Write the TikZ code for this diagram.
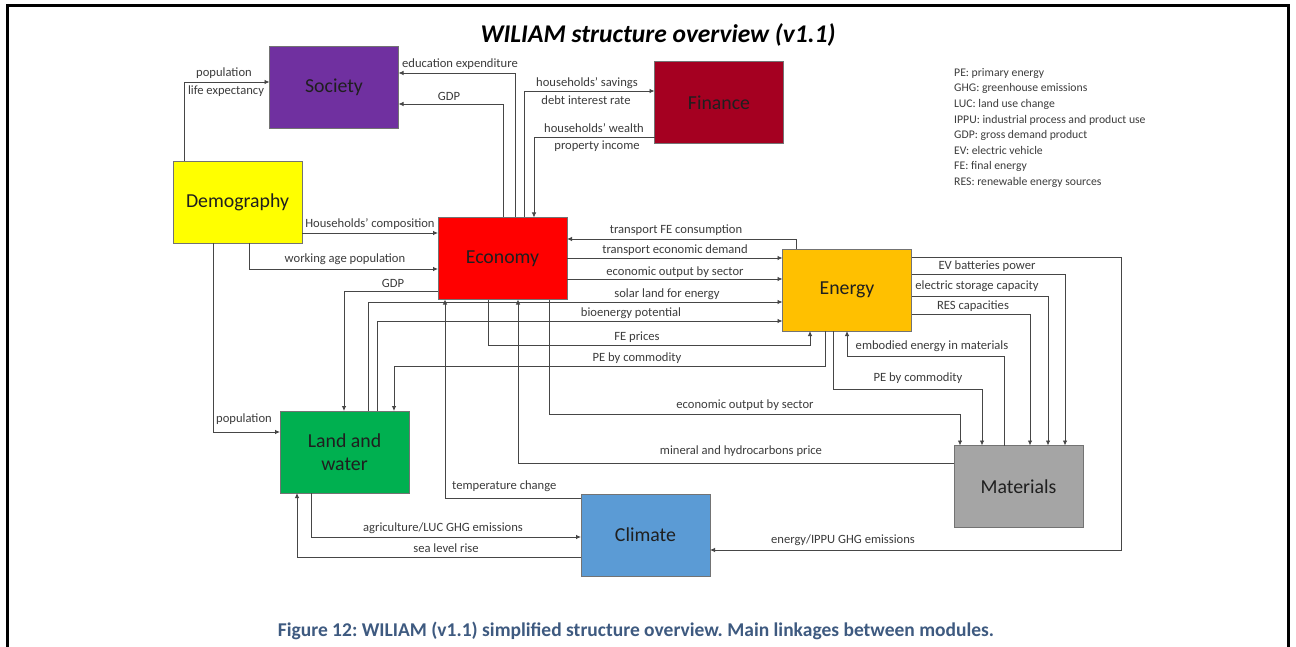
\documentclass[tikz,border=0pt]{standalone}
\usepackage{fontspec}
\setmainfont{Carlito}
\usetikzlibrary{arrows.meta}
\frenchspacing
\definecolor{cSociety}{RGB}{112,48,160}
\definecolor{cFinance}{RGB}{165,0,33}
\definecolor{cDemo}{RGB}{255,255,0}
\definecolor{cEcon}{RGB}{255,0,0}
\definecolor{cEnergy}{RGB}{255,192,0}
\definecolor{cLand}{RGB}{0,176,80}
\definecolor{cMat}{RGB}{165,165,165}
\definecolor{cClim}{RGB}{91,155,213}
\definecolor{cLine}{RGB}{70,70,70}
\definecolor{cText}{RGB}{60,60,60}
\definecolor{cCap}{RGB}{62,90,128}
\tikzset{
  module/.style={draw=black!55, line width=0.8pt, minimum width=129pt, minimum height=82pt,
    inner sep=0pt, outer sep=0pt, text=black!88, font=\fontsize{19.8}{23}\selectfont, align=center},
  arr/.style={draw=cLine, line width=0.8pt, -{Latex[length=5pt,width=4.5pt]}},
  lbl/.style={inner sep=0pt, text=cText, font=\fontsize{12.6}{14}\selectfont},
}
\begin{document}
\begin{tikzpicture}[x=1pt,y=-1pt]
\useasboundingbox (0,0) rectangle (1296,647);
\fill[white] (0,0) rectangle (1296,647);
% frame
\draw[line width=3.5pt] (7.5,647) -- (7.5,5.5) -- (1288.5,5.5) -- (1288.5,647);
% title
\node[inner sep=0pt, font=\fontsize{25.5}{29}\selectfont\bfseries\itshape] (title) at (658,35) {WILIAM structure overview (v1.1)};
% modules
\node[module, fill=cSociety] (Society) at (334,87) {Society};
\node[module, fill=cFinance] (Finance) at (719,102.5) {Finance};
\node[module, fill=cDemo] (Demography) at (237.5,202.5) {Demography};
\node[module, fill=cEcon] (Economy) at (502.5,258.5) {Economy};
\node[module, fill=cEnergy] (Energy) at (847,290) {Energy};
\node[module, fill=cLand] (Land) at (344.5,452) {Land and\\water};
\node[module, fill=cMat] (Materials) at (1018.5,486.5) {Materials};
\node[module, fill=cClim] (Climate) at (645.5,535) {Climate};
% legend
\node[anchor=north west, inner sep=0pt, text=cText, align=left,
  font=\fontsize{11.7}{15.6}\selectfont] (legend) at (954,68)
  {PE: primary energy\\GHG: greenhouse emissions\\LUC: land use change\\IPPU: industrial process and product use\\GDP: gross demand product\\EV: electric vehicle\\FE: final energy\\RES: renewable energy sources};
% connectors
\draw[arr] (Demography.north -| 184,0) |- (Society.west |- 0,82);
\node[lbl] (l1) at (224,73) {population};
\node[lbl] (l2) at (226,91) {life expectancy};
\draw[arr] (Economy.north -| 515,0) |- (Society.east |- 0,73);
\node[lbl] (l3) at (460,64) {education expenditure};
\draw[arr] (Economy.north -| 503,0) |- (Society.east |- 0,104);
\node[lbl] (l4) at (449,96) {GDP};
\draw[arr] (Economy.north -| 524,0) |- (Finance.west |- 0,91);
\node[lbl] (l5) at (587,83) {households’ savings};
\node[lbl] (l6) at (586,100) {debt interest rate};
\draw[arr] (Finance.west |- 0,137) -| (Economy.north -| 534,0);
\node[lbl] (l7) at (594,128) {households’ wealth};
\node[lbl] (l8) at (597,146) {property income};
\draw[arr] (Demography.east |- 0,233) -- (Economy.west |- 0,233);
\node[lbl] (l9) at (370,224) {Households’ composition};
\draw[arr] (Demography.south -| 249,0) |- (Economy.west |- 0,269);
\node[lbl] (l10) at (345,259) {working age population};
\draw[arr] (Economy.west |- 0,291) -| (Land.north -| 344,0);
\node[lbl] (l11) at (393,283) {GDP};
\draw[arr] (Demography.south -| 213,0) |- (Land.west |- 0,432);
\node[lbl] (l12) at (244,419) {population};
\draw[arr] (Land.north -| 368,0) |- (Energy.west |- 0,302);
\node[lbl] (l13) at (667,294) {solar land for energy};
\draw[arr] (Land.north -| 377,0) |- (Energy.west |- 0,321);
\node[lbl] (l14) at (631,313) {bioenergy potential};
\draw[arr] (Economy.south -| 488,0) |- (810,345) -- (Energy.south -| 810,0);
\node[lbl] (l15) at (637,337) {FE prices};
\draw[arr] (Energy.south -| 825,0) |- (394,366) -- (Land.north -| 394,0);
\node[lbl] (l16) at (637,358) {PE by commodity};
\draw[arr] (Economy.east |- 0,258) -- (Energy.west |- 0,258);
\node[lbl] (l17) at (675,250) {transport economic demand};
\draw[arr] (Economy.east |- 0,279) -- (Energy.west |- 0,279);
\node[lbl] (l18) at (675,272) {economic output by sector};
\draw[arr] (Energy.north -| 796,0) |- (Economy.east |- 0,239);
\node[lbl] (l19) at (676,230) {transport FE consumption};
\draw[arr] (Energy.east |- 0,274) -| (Materials.north -| 1065,0);
\node[lbl] (l20) at (987,266) {EV batteries power};
\draw[arr] (Energy.east |- 0,296) -| (Materials.north -| 1048,0);
\node[lbl] (l21) at (977,286) {electric storage capacity};
\draw[arr] (Energy.east |- 0,314) -| (Materials.north -| 1030,0);
\node[lbl] (l22) at (973,306) {RES capacities};
\draw[arr] (Materials.north -| 1004,0) |- (847,356) -- (Energy.south -| 847,0);
\node[lbl] (l23) at (932,346) {embodied energy in materials};
\draw[arr] (Energy.south -| 833,0) |- (982,389) -- (Materials.north -| 982,0);
\node[lbl] (l24) at (918,378) {PE by commodity};
\draw[arr] (Economy.south -| 549,0) |- (960,414) -- (Materials.north -| 960,0);
\node[lbl] (l25) at (745,405) {economic output by sector};
\draw[arr] (Materials.west |- 0,463) -| (Economy.south -| 518,0);
\node[lbl] (l26) at (741,451) {mineral and hydrocarbons price};
\draw[arr] (Climate.west |- 0,498) -| (Economy.south -| 445,0);
\node[lbl, anchor=west] (l27) at (452,486) {temperature change};
\draw[arr] (Land.south -| 311,0) |- (Climate.west |- 0,537);
\node[lbl] (l28) at (443,528) {agriculture/LUC GHG emissions};
\draw[arr] (Climate.west |- 0,557) -| (Land.south -| 297,0);
\node[lbl] (l29) at (446,548) {sea level rise};
\draw[arr] (Energy.east |- 0,257) -| (1121,550) -- (Climate.east |- 0,550);
\node[lbl] (l30) at (843,540) {energy/IPPU GHG emissions};
% caption
\node[inner sep=0pt, text=cCap, font=\fontsize{19.5}{22}\selectfont\bfseries] (caption) at (636,631)
  {Figure 12: WILIAM (v1.1) simplified structure overview. Main linkages between modules.};
\end{tikzpicture}
\end{document}
